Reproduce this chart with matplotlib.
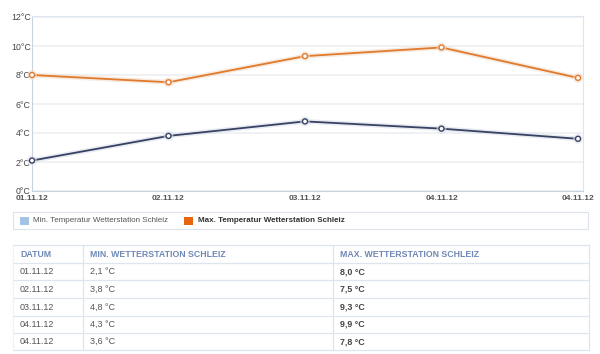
import matplotlib
matplotlib.use("Agg")
import matplotlib.pyplot as plt
import matplotlib.patheffects as pe
from matplotlib.patches import Rectangle

plt.rcParams['font.family'] = ['Liberation Sans', 'DejaVu Sans']

dates = ["01.11.12", "02.11.12", "03.11.12", "04.11.12", "04.11.12"]
t_min = [2.1, 3.8, 4.8, 4.3, 3.6]
t_max = [8.0, 7.5, 9.3, 9.9, 7.8]
y_ticks = [0, 2, 4, 6, 8, 10, 12]
legend_labels = ["Min. Temperatur Wetterstation Schleiz", "Max. Temperatur Wetterstation Schleiz"]
col_heads = ["DATUM", "MIN. WETTERSTATION SCHLEIZ", "MAX. WETTERSTATION SCHLEIZ"]

W, H = 600, 354
fig = plt.figure(figsize=(W / 100, H / 100), dpi=100)

# background axes in pixel coords for legend + table
bg = fig.add_axes([0, 0, 1, 1])
bg.set_xlim(0, W)
bg.set_ylim(H, 0)
bg.axis('off')

# chart
ax = fig.add_axes([32 / W, 1 - 191 / H, 551 / W, 175 / H])
x = list(range(len(dates)))
ax.set_xlim(0, 4 * 551 / 546)
ax.set_ylim(0, 12.0 * 175 / 174)
ax.set_yticks(y_ticks)
ax.set_yticklabels(["%d°C" % v for v in y_ticks], fontsize=6.3, color='#444444')
ax.set_xticks(x)
ax.set_xticklabels(dates, fontsize=6.0, fontweight='bold', color='#555555')
ax.tick_params(length=0, pad=1)
ax.tick_params(axis='x', pad=3)
ax.grid(axis='y', color='#eceff3', linewidth=1.2)
ax.set_axisbelow(True)
for s in ax.spines.values():
    s.set_color('#dde6ef')
    s.set_linewidth(0.8)
ax.spines['left'].set_color('#c8d3e0')
ax.spines['bottom'].set_color('#c8d3e0')

glow = [pe.Stroke(linewidth=3.5, foreground='#d9dee8', alpha=0.6), pe.Normal()]
ax.plot(x, t_min, color='#374263', linewidth=1.3, marker='o', markersize=3.6,
        markerfacecolor='white', markeredgecolor='#374263', markeredgewidth=1.0,
        path_effects=glow, clip_on=False, zorder=3)
glow2 = [pe.Stroke(linewidth=3.5, foreground='#f3dcc8', alpha=0.6), pe.Normal()]
ax.plot(x, t_max, color='#e07a2c', linewidth=1.3, marker='o', markersize=3.6,
        markerfacecolor='white', markeredgecolor='#e07a2c', markeredgewidth=1.0,
        path_effects=glow2, clip_on=False, zorder=3)

# legend box
bg.add_patch(Rectangle((13, 212), 575, 17, facecolor='white', edgecolor='#dde3ea', linewidth=0.8))
bg.add_patch(Rectangle((20, 216.5), 9, 8, facecolor='#a3c2e6', edgecolor='none'))
bg.text(33, 220.5, legend_labels[0], fontsize=5.8, color='#555555', va='center', ha='left')
bg.add_patch(Rectangle((184, 216.5), 9, 8, facecolor='#e8640f', edgecolor='none'))
bg.text(198, 220.5, legend_labels[1], fontsize=5.8, color='#333333', va='center', ha='left',
        fontweight='bold')

# table
tl, tr = 13, 589
cols = [13, 83, 333]
rows = [245, 263, 280, 298, 316, 333, 350]
lc = '#dfe5ec'
for yy in rows:
    bg.plot([tl, tr], [yy, yy], color=lc, linewidth=0.9)
for xx in cols[1:] + [tr]:
    bg.plot([xx, xx], [rows[0], rows[-1]], color=lc, linewidth=0.9)
bg.plot([tl, tl], [rows[0], rows[-1]], color='#eef1f5', linewidth=0.9)
for c, head in enumerate(col_heads):
    bg.text(cols[c] + 7, (rows[0] + rows[1]) / 2 + 0.5, head, fontsize=6.35, color='#6f88b6',
            va='center', ha='left', fontweight='bold')
for r in range(len(dates)):
    yc = (rows[r + 1] + rows[r + 2]) / 2
    bg.text(cols[0] + 7, yc, dates[r], fontsize=6.5, color='#555555', va='center')
    bg.text(cols[1] + 7, yc, ("%.1f °C" % t_min[r]).replace('.', ','), fontsize=6.5,
            color='#555555', va='center')
    bg.text(cols[2] + 7, yc, ("%.1f °C" % t_max[r]).replace('.', ','), fontsize=6.4,
            color='#444444', va='center', fontweight='bold')

fig.savefig("out.png", dpi=100)
